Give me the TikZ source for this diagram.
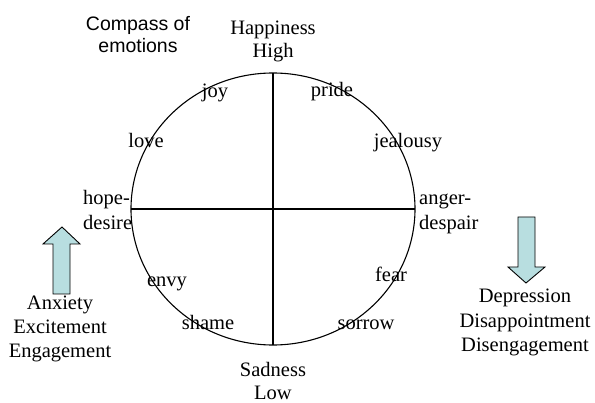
\documentclass[tikz,border=0pt]{standalone}
\usepackage{fontspec}
\setmainfont{Liberation Serif}
\newfontfamily\labsans{Liberation Sans}
\definecolor{arrowfill}{RGB}{184,222,224}
\begin{document}
\begin{tikzpicture}[x=1pt,y=-1pt,
  lab/.style={font=\fontsize{20.5}{24}\selectfont, inner sep=0pt, anchor=base},
  lablft/.style={lab, anchor=base west},
  ttl/.style={font=\labsans\fontsize{19.5}{22}\selectfont, inner sep=0pt, anchor=base},
  bigarrow/.style={draw=black, line width=0.9pt, fill=arrowfill, line join=miter}]
\useasboundingbox (0,0) rectangle (595,403);
% compass
\draw[line width=1.1pt] (273,209) ellipse [x radius=142, y radius=136];
\coordinate (W) at (131,209);
\coordinate (E) at (415,209);
\coordinate (N) at (273,73);
\coordinate (S) at (273,345);
\draw[line width=1.1pt] (W) -- (E);
\draw[line width=1.1pt] (N) -- (S);
% title
\node[ttl] (title1) at (138,31) {Compass of};
\node[ttl] (title2) at (138,53) {emotions};
% axes labels
\node[lab] (hap) at (273,35) {Happiness};
\node[lab] (high) at (273,58) {High};
\node[lab] (sad) at (273,377) {Sadness};
\node[lab] (low) at (273,400) {Low};
% emotions
\node[lab] (joy) at (215,98) {joy};
\node[lab] (pride) at (332,97) {pride};
\node[lab] (love) at (146,148) {love};
\node[lab] (jeal) at (408,148) {jealousy};
\node[lablft] (hope) at (83,205) {hope-};
\node[lablft] (desire) at (83,230) {desire};
\node[lablft] (anger) at (419,205) {anger-};
\node[lablft] (despair) at (419,230) {despair};
\node[lab] (envy) at (167,287) {envy};
\node[lab] (shame) at (208,330) {shame};
\node[lab] (fear) at (391,282) {fear};
\node[lab] (sorrow) at (366,330) {sorrow};
% side texts
\node[lab] (anx) at (60,310) {Anxiety};
\node[lab] (exc) at (60,334) {Excitement};
\node[lab] (eng) at (60,358) {Engagement};
\node[lab] (dep) at (525,303) {Depression};
\node[lab] (dis) at (525,328) {Disappointment};
\node[lab] (dise) at (525,352) {Disengagement};
% arrows
\draw[bigarrow] (53,294) -- (53,244) -- (43,244) -- (62,227) -- (80,244) -- (70,244) -- (70,294) -- cycle;
\draw[bigarrow] (518,217) -- (535,217) -- (535,267) -- (545,267) -- (526,283) -- (508,267) -- (518,267) -- cycle;
\end{tikzpicture}
\end{document}
